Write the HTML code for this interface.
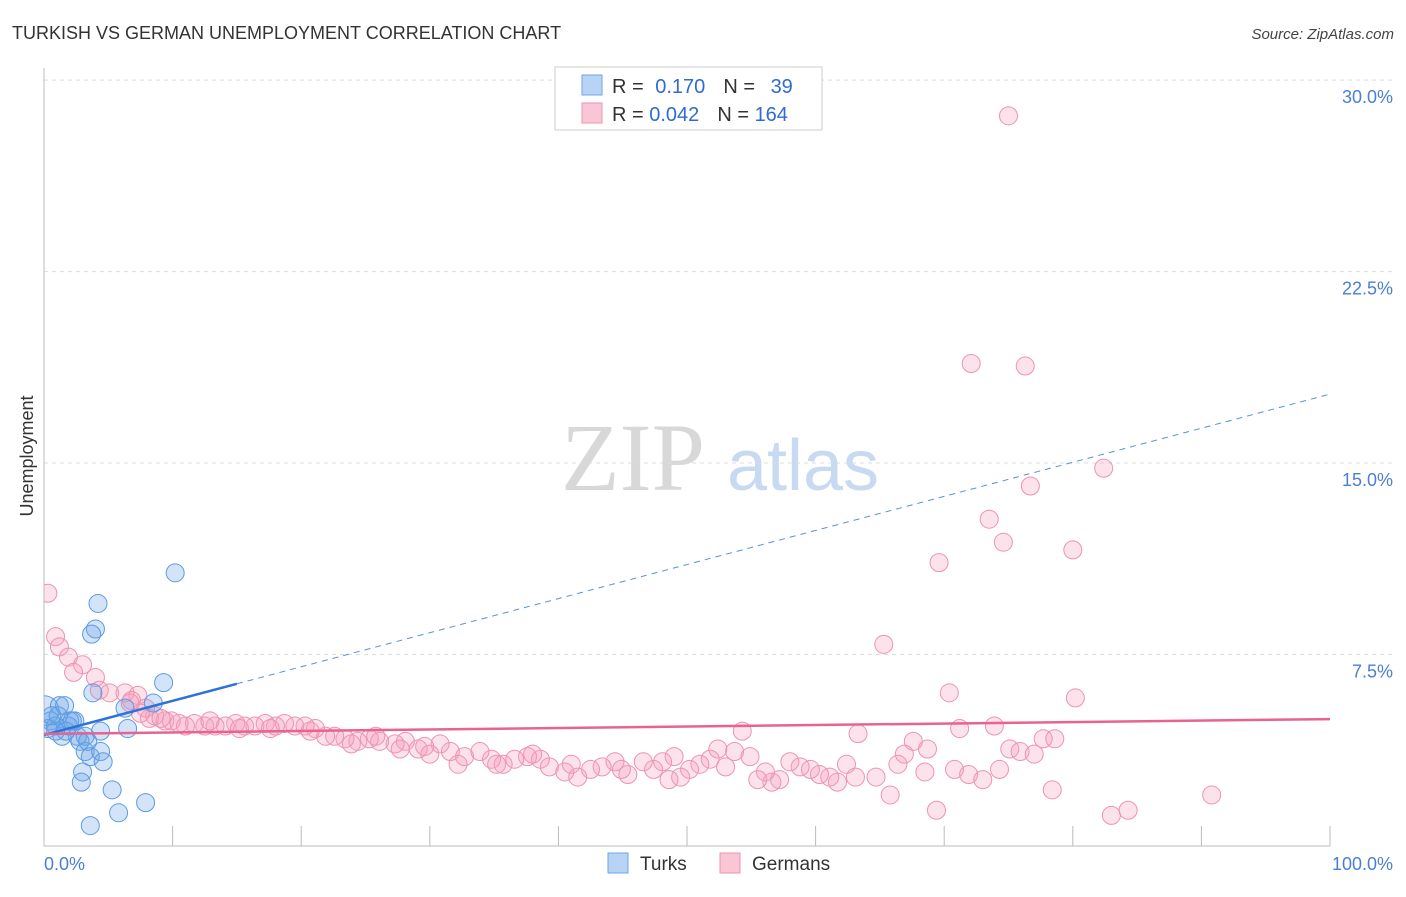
<!DOCTYPE html>
<html><head><meta charset="utf-8"><style>
body{margin:0;background:#fff;font-family:"Liberation Sans",sans-serif}
</style></head><body>
<svg id="chart" width="1406" height="892" xmlns="http://www.w3.org/2000/svg" font-family="Liberation Sans, sans-serif">
<defs><clipPath id="plotclip"><rect x="44" y="60" width="1360" height="786"/></clipPath></defs>
<text x="12" y="39" font-size="18" fill="#333">TURKISH VS GERMAN UNEMPLOYMENT CORRELATION CHART</text>
<text x="1394" y="39" font-size="15" fill="#444" font-style="italic" text-anchor="end">Source: ZipAtlas.com</text>
<text transform="translate(33,456) rotate(-90)" font-size="18" fill="#333" text-anchor="middle">Unemployment</text>
<g>
<text x="633" y="490" font-family="Liberation Serif, serif" font-size="96" fill="#d8d8d8" text-anchor="middle">ZIP</text>
<text x="803" y="490" font-size="72" fill="#c8daf2" text-anchor="middle">atlas</text>
</g>
<g id="grid"></g><g id="axes"></g><g id="pts" clip-path="url(#plotclip)"></g><g id="lines"></g>
<g>
<rect x="555" y="67" width="267" height="63" fill="#fff" stroke="#ccc"/>
<rect x="582" y="75" width="20" height="20" fill="#b8d4f5" stroke="#6fa3e6"/>
<rect x="582" y="103" width="20" height="20" fill="#f9c6d5" stroke="#ee93b0"/>
<text x="612" y="93" font-size="20" fill="#333">R = <tspan fill="#2f6bd0" dx="6">0.170</tspan><tspan dx="18">N = </tspan><tspan fill="#2f6bd0" dx="10">39</tspan></text>
<text x="612" y="121" font-size="20" fill="#333">R = <tspan fill="#2f6bd0">0.042</tspan><tspan dx="18">N = </tspan><tspan fill="#2f6bd0">164</tspan></text>
</g>
<g>
<rect x="608" y="853" width="20" height="20" fill="#b8d4f5" stroke="#6fa3e6"/>
<text x="640" y="870" font-size="19" fill="#333">Turks</text>
<rect x="720" y="853" width="20" height="20" fill="#f9c6d5" stroke="#ee93b0"/>
<text x="752" y="870" font-size="19" fill="#333">Germans</text>
</g>
</svg>
<script>
const yTicks=[7.5,15,22.5,30];
const yTickLabels=["7.5%","15.0%","22.5%","30.0%"];
const xTickLabels=["0.0%","100.0%"];
const turksX=[0,0.5,0.9,1.2,1.6,2.0,2.4,2.6,3.2,2.8,3.2,3.6,4.4,4.6,3.0,2.9,5.3,7.9,5.8,3.6,10.2,4.2,4.0,3.7,3.8,9.3,6.3,8.5,6.5,4.4,1.4,1.9,1.1,2.2,1.7,0.9,0.3,0.6,3.4];
const turksY=[5.3,4.9,4.7,5.5,5.5,4.9,4.9,4.3,4.3,4.1,3.7,3.5,3.7,3.3,2.9,2.5,2.2,1.7,1.3,0.8,10.7,9.5,8.5,8.3,6.0,6.4,5.4,5.6,4.6,4.5,4.3,4.7,5.1,4.9,4.5,4.5,4.6,5.1,4.1];
const germansX=[75,72.1,76.3,82.4,76.7,73.5,74.6,80,69.6,65.3,70.4,80.2,0.3,0.9,1.2,1.9,3,2.3,4,4.3,5.1,6.3,7.3,6.8,69.4,65.8,78.4,83,84.3,90.8,75.1,75.9,77,77.7,78.6,73.9,71.2,67.6,68.7,66.9,66.4,68.5,70.8,71.9,73,63.3,54.3,63.1,64.7,61.7,61.1,60.3,59.6,58.8,58,57.2,56.6,56.1,54.9,53.7,52.4,51.8,51,50.2,49.5,49,48.1,47.4,46.6,45.4,44.4,43.4,42.5,41.5,40.5,39.3,38.6,37.6,36.6,35.7,34.8,33.9,32.7,31.6,30.8,30,29.1,28.1,27.3,26.1,25.3,24.4,23.4,22.6,21.9,21.1,20.3,19.5,18.7,18,17.2,16.4,15.6,14.9,14.1,13.3,12.5,11.7,11,9.9,9.4,8.6,7.9,8.2,7.5,6.7,74.3,62.4,55.5,53,48.6,44.9,41,38,35.2,32.2,29.6,27.7,25.8,23.9,20.7,17.6,15.2,12.9,10.5,9.1];
const germansY=[28.6,18.9,18.8,14.8,14.1,12.8,11.9,11.6,11.1,7.9,6.0,5.8,9.9,8.2,7.8,7.4,7.1,6.8,6.6,6.1,6.0,6.0,5.9,5.7,1.4,2.0,2.2,1.2,1.4,2.0,3.8,3.7,3.6,4.2,4.2,4.7,4.6,4.1,3.8,3.6,3.2,2.9,3.0,2.8,2.6,4.4,4.5,2.7,2.7,2.5,2.7,2.8,3.0,3.1,3.3,2.6,2.5,2.9,3.5,3.7,3.8,3.4,3.2,3.0,2.7,3.5,3.3,3.0,3.3,2.8,3.3,3.1,3.0,2.7,2.9,3.1,3.4,3.5,3.4,3.2,3.4,3.7,3.5,3.7,4.0,3.6,3.8,4.1,4.0,4.1,4.2,4.1,4.2,4.3,4.3,4.6,4.7,4.7,4.8,4.7,4.8,4.7,4.7,4.8,4.7,4.7,4.7,4.8,4.7,4.9,4.9,5.1,5.4,5.0,5.2,5.6,3.0,3.2,2.6,3.1,2.6,3.0,3.2,3.6,3.2,3.2,3.9,3.8,4.3,4.0,4.5,4.6,4.6,4.9,4.8,5.0];
const turksLine=[4.35,17.7], germansLine=[4.39,4.97];
const NS="http://www.w3.org/2000/svg";
const X=v=>44+v*12.86, Y=v=>846-v*25.53;
function mk(t,a,p){const e=document.createElementNS(NS,t);for(const k in a)e.setAttribute(k,a[k]);p.appendChild(e);return e;}
const grid=document.getElementById('grid'),axes=document.getElementById('axes'),pts=document.getElementById('pts'),lines=document.getElementById('lines');
yTicks.forEach((t,i)=>{
 const g=mk('line',{x1:44,x2:1393,y1:Y(t),y2:Y(t),stroke:'#ddd','stroke-dasharray':'4,4'},grid);
 
 
 const l=mk('text',{x:1393,y:Y(t)+23,'font-size':18,fill:'#4a7fd4','text-anchor':'end'},axes);
 l.textContent=yTickLabels[i];
 
 
});
const ax=mk('line',{x1:44,x2:1330,y1:846,y2:846,stroke:'#bbb'},axes);


const ay=mk('line',{x1:44,x2:44,y1:68,y2:846,stroke:'#bbb'},axes);


for(let i=1;i<=10;i++){const t=mk('line',{x1:X(i*10),x2:X(i*10),y1:826,y2:846,stroke:'#bbb'},axes);
 
 }
[[0,0,'start',44],[1,100,'end',1393]].forEach(([i,v,a,x])=>{const l=mk('text',{x:x,y:870,'font-size':18,fill:'#4a7fd4','text-anchor':a},axes);l.textContent=xTickLabels[i];
 
 });
germansX.forEach((x,i)=>{const c=mk('circle',{cx:X(x),cy:Y(germansY[i]),r:9,fill:'rgba(244,160,188,0.3)',stroke:'#ee93b0','stroke-width':1},pts);
 
 });
turksX.forEach((x,i)=>{const c=mk('circle',{cx:X(x),cy:Y(turksY[i]),r:i==0?15:9,fill:'rgba(110,165,232,0.3)',stroke:'#5b9be3','stroke-width':1},pts);
 
 });
const ty=x=>turksLine[0]+(turksLine[1]-turksLine[0])*x/100;
let l1=mk('line',{x1:X(0),y1:Y(ty(0)),x2:X(15),y2:Y(ty(15)),stroke:'#2f72d6','stroke-width':2.5},lines);


let l2=mk('line',{x1:X(15),y1:Y(ty(15)),x2:X(100),y2:Y(ty(100)),stroke:'#5b8fd8','stroke-width':1,'stroke-dasharray':'6,5'},lines);


let l3=mk('line',{x1:X(0),y1:Y(germansLine[0]),x2:X(100),y2:Y(germansLine[1]),stroke:'#e8638f','stroke-width':2.5},lines);


</script>
</body></html>
